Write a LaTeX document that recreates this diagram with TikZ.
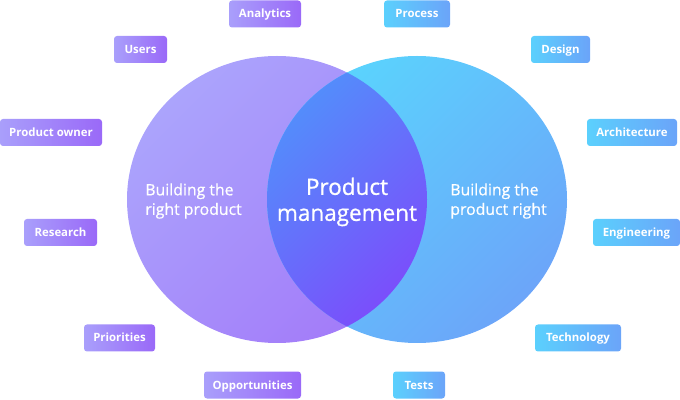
\documentclass[tikz,border=0pt]{standalone}
\usepackage{fontspec}
\setmainfont{Open Sans}
\newfontfamily\midfont[FakeBold=0.8]{Open Sans}
\usetikzlibrary{positioning}
\definecolor{lilacTop}{HTML}{ABA4FC}
\definecolor{lilacBot}{HTML}{A37BF9}
\definecolor{skyTop}{HTML}{5AD4FD}
\definecolor{skyBot}{HTML}{6CA5F9}
\definecolor{lensTop}{HTML}{528FFB}
\definecolor{lensBot}{HTML}{7C4CFB}
\definecolor{tagvL}{HTML}{A99FFB}
\definecolor{tagvR}{HTML}{9A69F8}
\definecolor{tagsL}{HTML}{5BD0FD}
\definecolor{tagsR}{HTML}{6BA4F9}

\begin{document}
\begin{tikzpicture}[x=1pt,y=1pt,
        tag/.style={rounded corners=3pt,minimum height=27pt,inner sep=0pt,text height=8pt,text depth=0pt,text=white,font=\bfseries\fontsize{11.4}{13}\selectfont},
        violettag/.style={tag,left color=tagvL,right color=tagvR},
        skytag/.style={tag,left color=tagsL,right color=tagsR},
        circletext/.style={text=white,align=left,inner sep=0pt,font=\midfont\fontsize{15.8}{19.5}\selectfont},
        bigtext/.style={text=white,align=center,inner sep=0pt,font=\midfont\fontsize{22.5}{26}\selectfont}]
        \useasboundingbox (0,0) rectangle (680,399);
        % the two sets
        \shade[top color=lilacTop,bottom color=lilacBot,shading angle=45] (277,199.5) ellipse [x radius=150,y radius=143.5];
        \shade[top color=skyTop,bottom color=skyBot,shading angle=45] (417,199.5) ellipse [x radius=150,y radius=143.5];
        % overlap
        \begin{scope}
            \clip (277,199.5) ellipse [x radius=150,y radius=143.5];
            \clip (417,199.5) ellipse [x radius=150,y radius=143.5];
            \shade[top color=lensTop,bottom color=lensBot,shading angle=45] (265,70) rectangle (429,329);
        \end{scope}
        \node[circletext] (rightproduct) at (193.5,198) {Building the\\right product};
        \node[bigtext] (pm) at (347,197) {Product\\management};
        \node[circletext] (productright) at (498.5,198) {Building the\\product right};
        % left tags
        \node[violettag,minimum width=72pt] (analytics) at (265,385) {Analytics};
        \node[violettag,minimum width=53pt] (users) at (140.5,349.5) {Users};
        \node[violettag,minimum width=102pt] (owner) at (51,266.5) {Product owner};
        \node[violettag,minimum width=73pt] (research) at (60.5,166.5) {Research};
        \node[violettag,minimum width=71pt] (priorities) at (119.5,61) {Priorities};
        \node[violettag,minimum width=97pt] (opportunities) at (252.5,14) {Opportunities};
        % right tags
        \node[skytag,minimum width=66pt] (process) at (417,385) {Process};
        \node[skytag,minimum width=59pt] (design) at (560.5,349.5) {Design};
        \node[skytag,minimum width=90pt] (architecture) at (632,266.5) {Architecture};
        \node[skytag,minimum width=87pt] (engineering) at (636.5,166.5) {Engineering};
        \node[skytag,minimum width=86pt] (technology) at (578,61) {Technology};
        \node[skytag,minimum width=52pt] (tests) at (419,14) {Tests};
    \end{tikzpicture}
\end{document}
